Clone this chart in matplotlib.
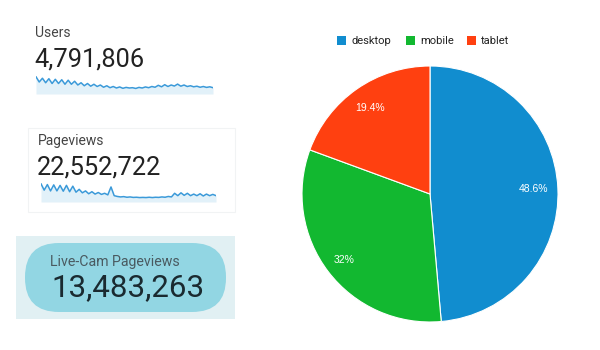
import numpy as np
import matplotlib.pyplot as plt
from matplotlib.patches import FancyBboxPatch, Rectangle

plt.rcParams['font.family'] = ['Roboto', 'DejaVu Sans']

# headline metrics
metric_names = ['Users', 'Pageviews']
metric_values = ['4,791,806', '22,552,722']
live_name = 'Live-Cam Pageviews'
live_value = '13,483,263'

# daily trend lines (relative)
users_trend = [0.95, 0.6, 0.85, 0.55, 0.82, 0.5, 0.78, 0.5, 0.75, 0.45, 0.72, 0.45,
               0.65, 0.4, 0.55, 0.35, 0.5, 0.32, 0.45, 0.3, 0.4, 0.25, 0.35, 0.22,
               0.3, 0.2, 0.27, 0.18, 0.24, 0.2, 0.22, 0.17, 0.24, 0.2, 0.27, 0.22,
               0.3, 0.25, 0.38, 0.28, 0.42, 0.3, 0.4, 0.33, 0.46, 0.32, 0.4, 0.3,
               0.35, 0.28, 0.32, 0.25, 0.3, 0.24, 0.28, 0.22]
pageviews_trend = [0.95, 0.55, 0.9, 0.5, 0.88, 0.5, 0.85, 0.48, 0.85, 0.45, 0.8, 0.42,
                   0.6, 0.38, 0.5, 0.32, 0.45, 0.3, 0.4, 0.28, 0.35, 0.25, 0.75, 0.2,
                   0.15, 0.12, 0.14, 0.1, 0.12, 0.09, 0.1, 0.08, 0.09, 0.08, 0.1, 0.08,
                   0.1, 0.09, 0.12, 0.1, 0.15, 0.12, 0.35, 0.2, 0.38, 0.22, 0.35, 0.2,
                   0.3, 0.2, 0.32, 0.18, 0.3, 0.2, 0.28, 0.2]

# device split
devices = ['desktop', 'mobile', 'tablet']
shares = [48.6, 32, 19.4]
share_labels = ['48.6%', '32%', '19.4%']
colors = ['#118dcf', '#12b830', '#ff4010']

fig = plt.figure(figsize=(6, 3.5), dpi=100)

# pixel-space overlay for the left panel
bg = fig.add_axes([0, 0, 1, 1])
bg.set_xlim(0, 600)
bg.set_ylim(350, 0)
bg.axis('off')

bg.add_patch(Rectangle((28, 128), 207, 84, facecolor='none',
                       edgecolor='#f1f3f4', lw=0.8))
for name, value, x, y in [(metric_names[0], metric_values[0], 35, 33),
                          (metric_names[1], metric_values[1], 38, 141)]:
    bg.text(x, y, name, fontsize=10, color='#444444', va='center', ha='left')
    bg.text(x - 1, y + 27, value, fontsize=18.3, color='#222222',
            va='center', ha='left')

bg.add_patch(Rectangle((16, 236), 219, 83, facecolor='#e1f0f3', edgecolor='none'))
bg.add_patch(FancyBboxPatch((25, 243), 201, 69,
                            boxstyle='round,pad=0,rounding_size=34',
                            facecolor='#92d6e3', edgecolor='none'))
bg.text(50, 262, live_name, fontsize=10.2, color='#4a5a60', va='center', ha='left')
bg.text(51, 288, live_value, fontsize=22.5, color='#1a2a30', va='center', ha='left')

# sparklines
for trend, box in [(users_trend, [36, 76, 177, 18]),
                   (pageviews_trend, [41, 183, 175, 19])]:
    x0, y0, w, h = box
    sp = fig.add_axes([x0 / 600, 1 - (y0 + h) / 350, w / 600, h / 350])
    xs = range(len(trend))
    sp.fill_between(xs, trend, -0.2, color='#e2f1f9', lw=0)
    sp.plot(xs, trend, color='#3b9ad9', lw=1.1)
    sp.set_xlim(0, len(trend) - 1)
    sp.set_ylim(-0.2, 1.0)
    sp.axis('off')

# pie chart
cx, cy, r = 430, 194, 128
ax = fig.add_axes([(cx - r) / 600, (350 - cy - r) / 350, 2 * r / 600, 2 * r / 350])
wedges, _ = ax.pie(shares, colors=colors, startangle=90, counterclock=False,
                   wedgeprops=dict(edgecolor='white', linewidth=0.8))
label_r = [0.81, 0.85, 0.82]
for wdg, lab, lr in zip(wedges, share_labels, label_r):
    ang = np.deg2rad((wdg.theta1 + wdg.theta2) / 2)
    ax.text(lr * np.cos(ang), lr * np.sin(ang), lab, color='white',
            fontsize=7.5, ha='center', va='center', family='Liberation Sans')
ax.set_xlim(-1, 1)
ax.set_ylim(-1, 1)

# legend
leg_x = [337, 406, 467]
for name, c, lx in zip(devices, colors, leg_x):
    bg.add_patch(Rectangle((lx, 35.5), 9, 9, facecolor=c, edgecolor='none'))
    bg.text(lx + 14, 40.5, name, fontsize=8, color='#222222',
            va='center', ha='left')

fig.savefig('out.png', dpi=100)
